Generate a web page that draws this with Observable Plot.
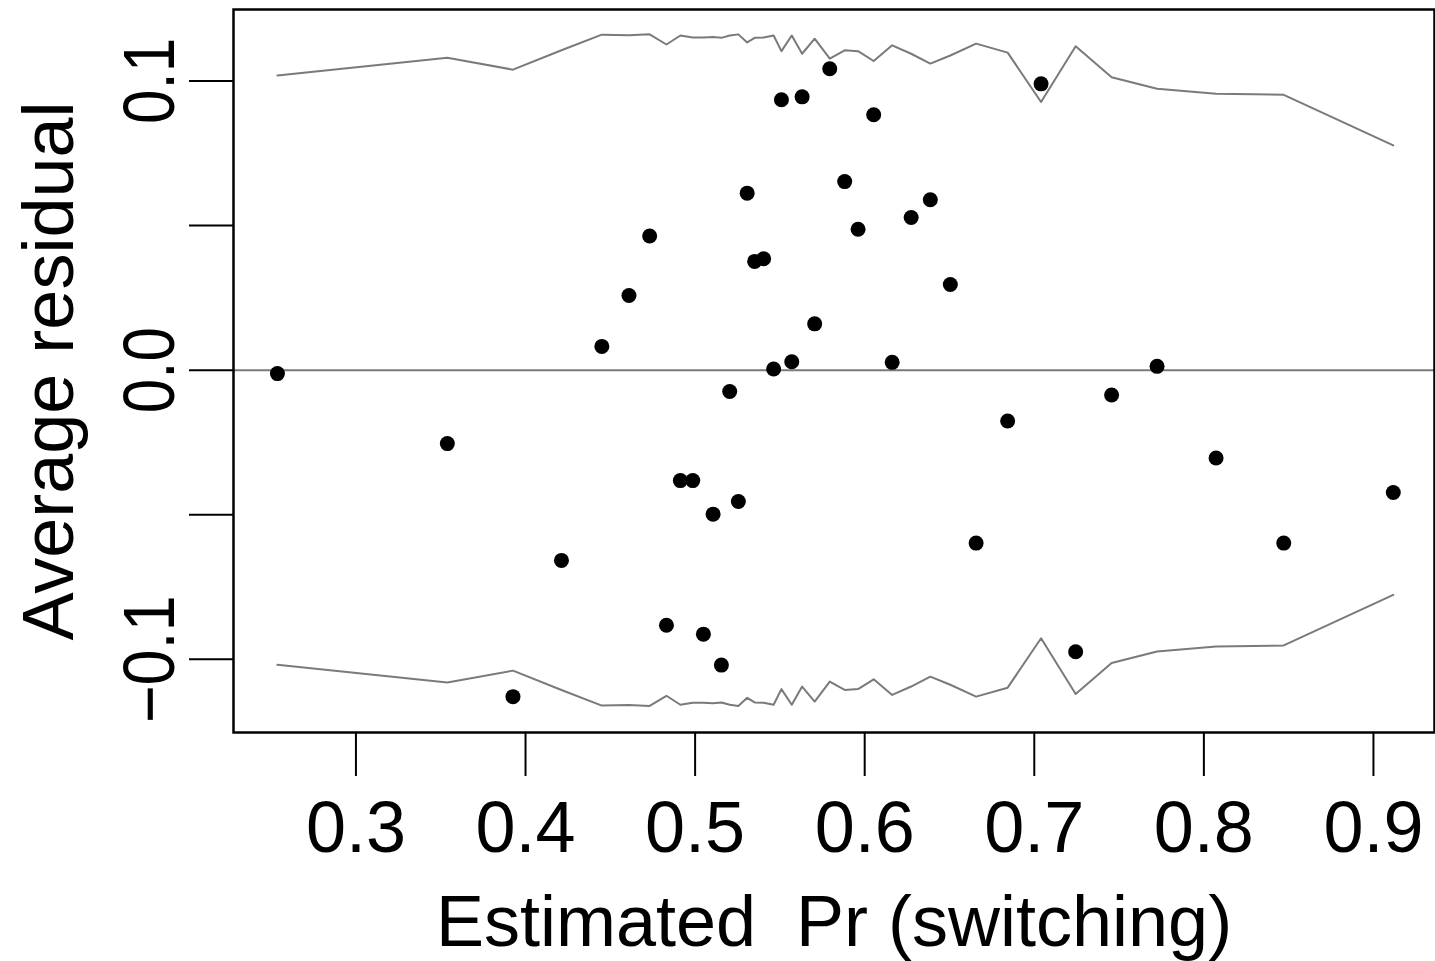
<!DOCTYPE html>
<html>
<head>
<meta charset="utf-8">
<script src="https://cdn.jsdelivr.net/npm/d3@7"></script>
<script src="https://cdn.jsdelivr.net/npm/@observablehq/plot@0.6"></script>
<style>
  html, body { margin: 0; padding: 0; background: #fff; }
  #chart svg { display: block; }
</style>
</head>
<body>
<div id="chart"></div>
<script>
// Bin means of estimated Pr(switching)
const binX = [0.2537, 0.3539, 0.3926, 0.4212, 0.4450, 0.4610, 0.4732, 0.4831, 0.4913, 0.4986,
              0.5049, 0.5106, 0.5155, 0.5204, 0.5255, 0.5307, 0.5351, 0.5404, 0.5463, 0.5509,
              0.5570, 0.5631, 0.5705, 0.5794, 0.5882, 0.5961, 0.6053, 0.6162, 0.6274, 0.6387,
              0.6505, 0.6657, 0.6843, 0.7040, 0.7244, 0.7456, 0.7724, 0.8072, 0.8471, 0.9117];
// Average residual in each bin
const avgResidual = [-0.0012, -0.0254, -0.1129, -0.0658, 0.0082, 0.0258, 0.0464, -0.0882, -0.0382, -0.0382,
                     -0.0913, -0.0498, -0.1020, -0.0074, -0.0454, 0.0612, 0.0376, 0.0385, 0.0004, 0.0935,
                     0.0029, 0.0945, 0.0160, 0.1042, 0.0652, 0.0487, 0.0883, 0.0027, 0.0528, 0.0589,
                     0.0296, -0.0598, -0.0176, 0.0990, -0.0974, -0.0086, 0.0013, -0.0304, -0.0598, -0.0423];
// +/- 2 standard-error band
const band2se = [0.1019, 0.1080, 0.1039, 0.1106, 0.1160, 0.1158, 0.1161, 0.1126, 0.1157, 0.1150,
                 0.1150, 0.1152, 0.1149, 0.1157, 0.1161, 0.1133, 0.1149, 0.1150, 0.1157, 0.1103,
                 0.1157, 0.1094, 0.1146, 0.1077, 0.1106, 0.1103, 0.1069, 0.1123, 0.1094, 0.1060,
                 0.1088, 0.1129, 0.1098, 0.0927, 0.1120, 0.1013, 0.0973, 0.0956, 0.0952, 0.0777];

const xTicks = [0.3, 0.4, 0.5, 0.6, 0.7, 0.8, 0.9];
const yTicks = [-0.1, -0.05, 0, 0.05, 0.1];
const yLabelTicks = [-0.1, 0, 0.1];
const xTitle = "Estimated\u00a0 Pr (switching)";
const yTitle = "Average residual";

const data = binX.map((x, i) => ({x, y: avgResidual[i], band: band2se[i]}));
const fmt = d3.format(".1f");
const grey = "#7a7a7a";

const chart = Plot.plot({
  width: 1435,
  height: 961,
  marginTop: 9,
  marginRight: 1,
  marginBottom: 229,
  marginLeft: 233,
  style: {fontFamily: "'Liberation Sans', Arial, sans-serif", color: "black", background: "white"},
  x: {domain: [0.2278, 0.9360]},
  y: {domain: [-0.1253, 0.1247]},
  marks: [
    Plot.ruleY([0], {stroke: grey, strokeWidth: 2}),
    Plot.line(data, {x: "x", y: "band", stroke: grey, strokeWidth: 2}),
    Plot.line(data, {x: "x", y: d => -d.band, stroke: grey, strokeWidth: 2}),
    Plot.dot(data, {x: "x", y: "y", r: 7.5, fill: "black", stroke: null}),
    Plot.frame({stroke: "black", strokeWidth: 2.5}),
    Plot.axisX(xTicks, {tickSize: 44, tickPadding: 24, fontSize: 72, tickFormat: fmt, strokeWidth: 2, label: null}),
    Plot.axisY(yTicks, {tickSize: 44, tickFormat: () => "", strokeWidth: 2, label: null}),
    Plot.text(yLabelTicks, {y: d => d, text: d => fmt(d), frameAnchor: "left", dx: -60, rotate: -90,
                            lineAnchor: "bottom", textAnchor: "middle", fontSize: 72, fill: "black"}),
    Plot.text([yTitle], {text: d => d, frameAnchor: "left", dx: -161, rotate: -90,
                         lineAnchor: "bottom", textAnchor: "middle", fontSize: 72, fill: "black"}),
    Plot.text([xTitle], {text: d => d, frameAnchor: "bottom", dy: 213,
                         lineAnchor: "bottom", textAnchor: "middle", fontSize: 72, fill: "black"})
  ]
});

// narrow rotated y tick labels, as in the reference
chart.querySelectorAll("text").forEach(t => {
  const tr = t.getAttribute("transform") || "";
  const s = t.textContent.trim();
  if (/rotate\(-90/.test(tr) && /^[−-]?0\.\d$/.test(s)) {
    t.setAttribute("textLength", /^[−-]/.test(s) ? 128 : 86);
    t.setAttribute("lengthAdjust", "spacingAndGlyphs");
  }
});

document.getElementById("chart").appendChild(chart);
</script>
</body>
</html>
